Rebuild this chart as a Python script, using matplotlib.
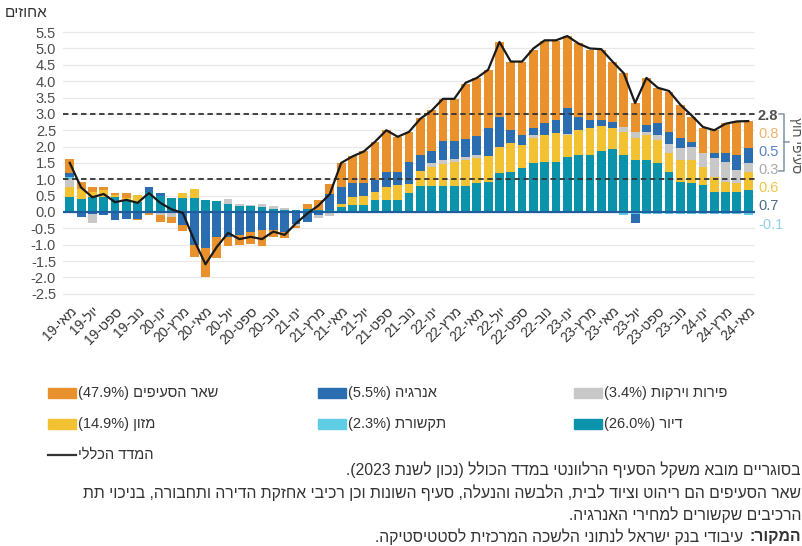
import re
import numpy as np
import matplotlib
matplotlib.use("Agg")
import matplotlib.pyplot as plt
from matplotlib.patches import Rectangle
from matplotlib.lines import Line2D

plt.rcParams['font.family'] = ['Liberation Sans', 'DejaVu Sans']

# ---- data (contributions to yearly CPI change, percentage points) ----
months = ['מאי-19', 'יול-19', 'ספט-19', 'נוב-19', 'ינו-20', 'מרץ-20', 'מאי-20', 'יול-20',
          'ספט-20', 'נוב-20', 'ינו-21', 'מרץ-21', 'מאי-21', 'יול-21', 'ספט-21', 'נוב-21',
          'ינו-22', 'מרץ-22', 'מאי-22', 'יול-22', 'ספט-22', 'נוב-22', 'ינו-23', 'מרץ-23',
          'מאי-23', 'יול-23', 'ספט-23', 'נוב-23', 'ינו-24', 'מרץ-24', 'מאי-24']

housing = [.47, .39, .47, .47, .47, .37, .32, .62, .48, .42, .42, .42, .38, .33, .24, .18,
           .17, .15, .08, .06, .06, .10, .05, .05, .16, .20, .20, .37, .37, .37, .57, .78,
           .78, .78, .78, .78, .88, .93, 1.18, 1.23, 1.34, 1.49, 1.54, 1.54, 1.69, 1.74,
           1.74, 1.85, 1.92, 1.74, 1.59, 1.59, 1.49, 1.23, .93, .88, .83, .62, .62, .62, .67]
food = [.30, .30, .15, .20, .05, .05, .20, 0, 0, 0, .15, .28, 0, 0, 0, 0,
        0, 0, 0, 0, 0, 0, 0, 0, .07, .25, .30, .25, .40, .45, .30, .46,
        .60, .70, .76, .80, .77, .77, .82, .87, .71, .77, .82, .87, .66, .77,
        .82, .77, .64, .71, .66, .77, .71, .56, .66, .71, .56, .46, .31, .26, .55]
fruit_veg = [.25, 0, -.30, 0, 0, 0, 0, 0, -.10, -.15, 0, 0, 0, 0, .17, .05,
             .05, .08, .10, .05, -.05, 0, -.10, -.08, 0, 0, 0, 0, 0, 0, 0, 0,
             .12, .10, .08, .10, .10, 0, 0, 0, 0, .10, 0, 0, .05, 0,
             0, 0, 0, .15, .20, .10, .15, .30, .36, .41, .41, .56, .61, .41, .28]
comms = [.05, 0, 0, 0, 0, 0, 0, 0, 0, 0, 0, 0, 0, 0, 0, 0,
         0, 0, 0, 0, -.03, -.03, -.03, -.03, -.03, -.03, -.03, -.03, -.03, -.03, -.03, -.03,
         -.03, -.03, -.03, -.03, -.03, -.04, -.04, -.04, -.04, -.04, -.04, -.04, -.04, -.04,
         -.04, -.04, -.04, -.10, -.05, -.05, -.05, -.05, -.05, -.05, -.05, -.05, -.05, -.05, -.10]
energy = [.12, -.16, -.05, -.08, -.25, -.20, -.20, .15, .10, 0, -.40, -1.02, -1.10, -.75, -.75, -.70,
          -.60, -.55, -.55, -.60, -.35, -.28, -.05, .50, .54, .43, .38, .35, .45, .40, .66, .50,
          .36, .60, .56, .56, .56, .87, .92, .41, .31, .20, .36, .41, .77, .40,
          .26, .20, .20, 0, -.30, .20, .36, .36, .30, .15, 0, .15, .26, .46, .47]
other = [.43, .24, .15, .10, .05, .17, -.05, -.10, -.20, -.20, -.17, -.35, -.90, -.65, -.30, -.30,
         -.38, -.50, -.22, -.20, -.06, .13, .32, .30, .72, .82, .97, 1.18, 1.28, 1.08, .92, 1.13,
         1.26, 1.28, 1.28, 1.66, 1.79, 1.78, 2.28, 2.09, 2.24, 2.40, 2.50, 2.40, 2.20, 2.25,
         2.14, 2.14, 1.84, 1.64, .88, 1.43, 1.08, 1.23, 1.03, .77, .77, .72, .92, 1.02, .80]
cpi_total = [1.5, .75, .45, .55, .30, .37, .28, .58, .28, .08, -.03, -.86, -1.6, -1.07, -.64, -.83,
             -.76, -.83, -.60, -.70, -.35, -.05, .20, .55, 1.5, 1.7, 1.85, 2.15, 2.5, 2.3, 2.45, 2.85,
             3.1, 3.46, 3.46, 3.95, 4.1, 4.35, 5.2, 4.6, 4.6, 5.0, 5.25, 5.25, 5.38, 5.15,
             5.0, 4.98, 4.6, 4.24, 3.33, 4.1, 3.8, 3.7, 3.28, 2.95, 2.6, 2.5, 2.7, 2.77, 2.78]

end_labels = ['2.8', '0.8', '0.5', '0.3', '0.6', '0.7', '-0.1']
end_colors = ['#4d4d4d', '#f2b26b', '#5b82c0', '#a8a8a8', '#f0c74a', '#4d6b85', '#8fd0ea']

C_OTHER = '#e8912d'
C_ENERGY = '#2a6db0'
C_FRUIT = '#c8c8c8'
C_FOOD = '#f2c232'
C_COMMS = '#5fcde4'
C_HOUSING = '#0c93ac'


def heb(s):
    # visual order for right-to-left text
    r = s[::-1].translate(str.maketrans('()', ')('))
    return re.sub(r'[\d.%]*\d[\d.%]*', lambda m: m.group(0)[::-1], r)


W, H = 803, 546


def fx(x):
    return x / W


def fy(y):
    return 1 - y / H


fig = plt.figure(figsize=(W / 100, H / 100), dpi=100)
ax = fig.add_axes([fx(63), fy(297), (755 - 63) / W, (297 - 25.6) / H])

x = np.arange(len(housing))
pos_order = [(housing, C_HOUSING), (food, C_FOOD), (fruit_veg, C_FRUIT),
             (comms, C_COMMS), (energy, C_ENERGY), (other, C_OTHER)]
neg_order = [(comms, C_COMMS), (energy, C_ENERGY), (fruit_veg, C_FRUIT),
             (food, C_FOOD), (housing, C_HOUSING), (other, C_OTHER)]

pb = np.zeros(len(x))
for vals, c in pos_order:
    v = np.clip(np.array(vals), 0, None)
    ax.bar(x, v, 0.78, bottom=pb, color=c, zorder=2)
    pb += v
nb = np.zeros(len(x))
for vals, c in neg_order:
    v = np.clip(np.array(vals), None, 0)
    ax.bar(x, v, 0.78, bottom=nb, color=c, zorder=2)
    nb += v

ax.axhline(0, color='#1f5f9f', lw=1.6, zorder=3)
for lvl in (1.0, 3.0):
    ax.axhline(lvl, color='#333333', lw=1.3, ls=(0, (3, 2)), zorder=4)
ax.plot(x, cpi_total, color='#1a1a1a', lw=1.6, zorder=5)

yt = np.arange(-2.5, 5.51, 0.5)
ax.set_yticks(yt)
ax.set_yticklabels([f'{v:.1f}' for v in yt], fontsize=10.5, color='#4d4d4d')
ax.yaxis.grid(True, color='#e8e8e8', lw=0.9, zorder=0)
ax.set_axisbelow(True)
ax.set_xticks(x[::2])
ax.set_xticklabels([heb(m) for m in months], rotation=45, ha='right',
                   rotation_mode='anchor', fontsize=10, color='#333333')
ax.tick_params(length=0, pad=5)
ax.set_xlim(-0.6, len(x) - 0.4)
ax.set_ylim(-2.6, 5.7)
for s in ax.spines.values():
    s.set_visible(False)

fig.text(fx(5), fy(13), heb('אחוזים'), fontsize=11, color='#333333', va='center')

# values at the right end
for i, (lab, c) in enumerate(zip(end_labels, end_colors)):
    fig.text(fx(758), fy(116 + i * 18.1), lab, fontsize=10.5, color=c, va='center',
             weight='bold' if i == 0 else 'normal')
bc = '#7f93a6'
fig.add_artist(Line2D([fx(779), fx(784), fx(784), fx(779)], [fy(114), fy(114), fy(171), fy(171)],
                      transform=fig.transFigure, color=bc, lw=1.1))
fig.add_artist(Line2D([fx(784), fx(789)], [fy(142), fy(142)], transform=fig.transFigure, color=bc, lw=1.1))
fig.text(fx(796), fy(145), heb('סעיפי חוץ'), rotation=270, fontsize=10, color='#555555',
         ha='center', va='center')

# legend
legend_items = [
    ('שאר הסעיפים (47.9%)', C_OTHER, 48, 393),
    ('אנרגיה (5.5%)', C_ENERGY, 318, 393),
    ('פירות וירקות (3.4%)', C_FRUIT, 574, 393),
    ('מזון (14.9%)', C_FOOD, 48, 424),
    ('תקשורת (2.3%)', C_COMMS, 318, 424),
    ('דיור (26.0%)', C_HOUSING, 574, 424),
]
for txt, c, x0, yc in legend_items:
    fig.add_artist(Rectangle((fx(x0), fy(yc + 5)), 28 / W, 10 / H, transform=fig.transFigure,
                             color=c))
    fig.text(fx(x0 + 30), fy(yc), heb(txt), fontsize=10.5, color='#333333', va='center')
fig.add_artist(Line2D([fx(48), fx(76)], [fy(455), fy(455)], transform=fig.transFigure,
                      color='#333333', lw=1.6))
fig.text(fx(78), fy(455), heb('המדד הכללי'), fontsize=10.5, color='#333333', va='center')

# notes
notes = ['בסוגריים מובא משקל הסעיף הרלוונטי במדד הכולל (נכון לשנת 2023).',
         'שאר הסעיפים הם ריהוט וציוד לבית, הלבשה והנעלה, סעיף השונות וכן רכיבי אחזקת הדירה ותחבורה, בניכוי תת',
         'הרכיבים שקשורים למחירי האנרגיה.']
for i, n in enumerate(notes):
    fig.text(fx(801), fy(470 + i * 22.5), heb(n), fontsize=11.3, color='#333333', ha='right', va='center')
t1 = fig.text(fx(801), fy(537), heb('המקור:'), fontsize=11.3, color='#333333', ha='right',
              va='center', weight='bold')
r = fig.canvas.get_renderer()
bb = t1.get_window_extent(renderer=r)
fig.text((bb.x0 - 6) / fig.bbox.width, fy(537), heb('עיבודי בנק ישראל לנתוני הלשכה המרכזית לסטטיסטיקה.'),
         fontsize=11.3, color='#333333', ha='right', va='center')

fig.savefig('out.png', dpi=100)
